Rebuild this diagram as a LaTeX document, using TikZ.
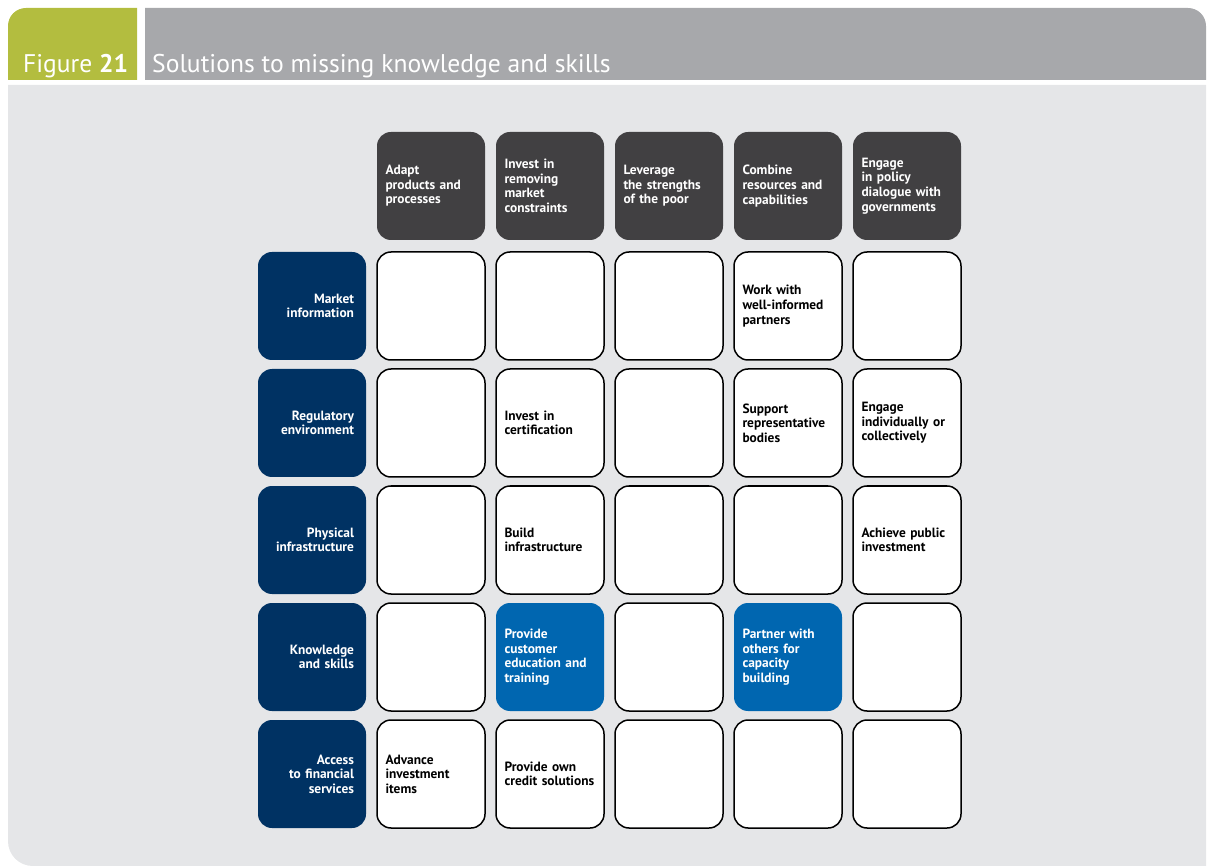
\documentclass[tikz,border=0pt]{standalone}
\usepackage{fontspec}
\setmainfont{PT Sans}
\usetikzlibrary{positioning}
\definecolor{figgreen}{RGB}{179,189,63}
\definecolor{bargrey}{RGB}{167,168,171}
\definecolor{panelgrey}{RGB}{229,230,232}
\definecolor{headgrey}{RGB}{65,64,66}
\definecolor{rownavy}{RGB}{0,50,99}
\definecolor{hiblue}{RGB}{0,102,176}
\newcommand{\cellfont}{\bfseries\fontsize{13.4}{14.6}\selectfont}
\tikzset{
  box/.style={rectangle,rounded corners=14pt,minimum width=108pt,minimum height=108pt,
    inner xsep=8.5pt,text width=91pt,align=left,font=\cellfont},
  head/.style={box,fill=headgrey,text=white},
  rowlab/.style={box,fill=rownavy,text=white,inner xsep=12pt,text width=84pt,align=right},
  cell/.style={box,fill=white,draw=black,line width=1.5pt},
  hicell/.style={box,fill=hiblue,text=white}
}

\begin{document}
\begin{tikzpicture}[x=1pt,y=-1pt]
    \useasboundingbox (0,0) rectangle (1208,866);
    % frame and title
    \fill[panelgrey] (8,85) -- (1206,85) -- (1206,866) -- (33,866) .. controls (19,866) and (8,855) .. (8,841) -- cycle;
    \fill[figgreen] (8,80) -- (8,26) .. controls (8,16) and (16,8) .. (26,8) -- (137,8) -- (137,80) -- cycle;
    \fill[bargrey] (145,8) -- (1188,8) .. controls (1198,8) and (1206,16) .. (1206,26) -- (1206,80) -- (145,80) -- cycle;
    \node[anchor=base west,inner sep=0,text=white,font=\fontsize{25.5}{30}\selectfont] (fig) at (23,73) {Figure \textbf{21}};
    \node[anchor=base west,inner sep=0,text=white,font=\fontsize{25.6}{30}\selectfont] (title) at (152,73) {Solutions to missing knowledge and skills};

    % column heads
    \node[head] (h1) at (431,186) {Adapt\\products and\\processes};
    \node[head] (h2) at (550,186) {Invest in\\removing\\market\\constraints};
    \node[head] (h3) at (669,186) {Leverage\\the strengths\\of the poor};
    \node[head] (h4) at (788,186) {Combine\\resources and\\capabilities};
    \node[head] (h5) at (907,186) {Engage\\in policy\\dialogue with\\governments};

    % row heads
    \node[rowlab] (r1) at (312,306) {Market\\information};
    \node[rowlab] (r2) at (312,423) {Regulatory\\environment};
    \node[rowlab] (r3) at (312,540) {Physical\\infrastructure};
    \node[rowlab] (r4) at (312,657) {Knowledge\\and skills};
    \node[rowlab] (r5) at (312,774) {Access\\to financial\\services};

    % market information
    \node[cell] (c11) at (431,306) {};
    \node[cell] (c12) at (550,306) {};
    \node[cell] (c13) at (669,306) {};
    \node[cell] (c14) at (788,306) {Work with\\well-informed\\partners};
    \node[cell] (c15) at (907,306) {};

    % regulatory environment
    \node[cell] (c21) at (431,423) {};
    \node[cell] (c22) at (550,423) {Invest in\\certification};
    \node[cell] (c23) at (669,423) {};
    \node[cell] (c24) at (788,423) {Support\\representative\\bodies};
    \node[cell] (c25) at (907,423) {Engage\\individually or\\collectively};

    % physical infrastructure
    \node[cell] (c31) at (431,540) {};
    \node[cell] (c32) at (550,540) {Build\\infrastructure};
    \node[cell] (c33) at (669,540) {};
    \node[cell] (c34) at (788,540) {};
    \node[cell] (c35) at (907,540) {Achieve public\\investment};

    % knowledge and skills
    \node[cell] (c41) at (431,657) {};
    \node[hicell] (c42) at (550,657) {Provide\\customer\\education and\\training};
    \node[cell] (c43) at (669,657) {};
    \node[hicell] (c44) at (788,657) {Partner with\\others for\\capacity\\building};
    \node[cell] (c45) at (907,657) {};

    % access to financial services
    \node[cell] (c51) at (431,774) {Advance\\investment\\items};
    \node[cell] (c52) at (550,774) {Provide own\\credit solutions};
    \node[cell] (c53) at (669,774) {};
    \node[cell] (c54) at (788,774) {};
    \node[cell] (c55) at (907,774) {};
\end{tikzpicture}
\end{document}
